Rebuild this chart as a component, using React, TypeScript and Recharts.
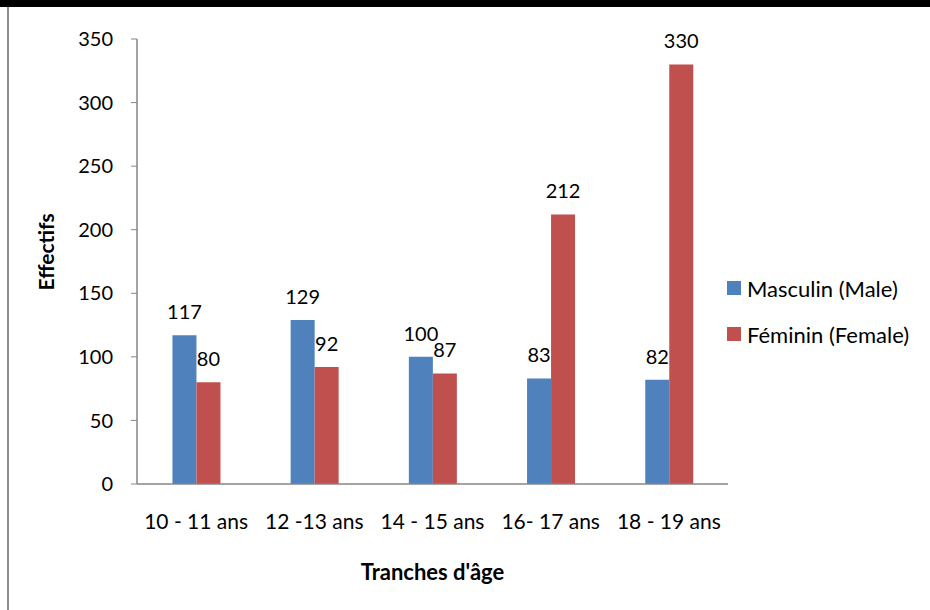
import { BarChart, Bar, XAxis, YAxis, LabelList } from "recharts";

const ageGroups = ["10 - 11 ans", "12 -13 ans", "14 - 15 ans", "16- 17 ans", "18 - 19 ans"];
const maleCounts = [117, 129, 100, 83, 82];
const femaleCounts = [80, 92, 87, 212, 330];
const yTicks = [0, 50, 100, 150, 200, 250, 300, 350];

const seriesNames = ["Masculin (Male)", "Féminin (Female)"];
const BLUE = "#4F81BD";
const RED = "#C0504D";
const FONT = "Lato, 'Open Sans', sans-serif";

const data = ageGroups.map((group, i) => ({
  group,
  male: maleCounts[i],
  female: femaleCounts[i],
}));

export default function App() {
  return (
    <div
      style={{
        position: "absolute",
        left: 0,
        top: 0,
        width: 930,
        height: 610,
        background: "#fff",
        fontFamily: FONT,
      }}
    >
      {/* frame of the chart area */}
      <div style={{ position: "absolute", left: 0, top: 0, width: 930, height: 7, background: "#000" }} />
      <div style={{ position: "absolute", left: 7, top: 7, width: 2, height: 603, background: "#8c8c8c" }} />

      <BarChart
        width={930}
        height={610}
        data={data}
        margin={{ top: 39, right: 202, bottom: 0, left: 0 }}
        barGap={0}
        barCategoryGap="30%"
        style={{ position: "absolute", left: 0, top: 0 }}
      >
        <XAxis
          dataKey="group"
          height={126}
          tickLine={false}
          axisLine={{ stroke: "#868686", strokeWidth: 1.5 }}
          tick={{ fill: "#000", fontSize: 21, fontFamily: FONT }}
          tickMargin={24}
          interval={0}
          label={{
            value: "Tranches d'âge",
            position: "insideBottom",
            offset: 30,
            fill: "#000",
            fontSize: 22,
            fontWeight: 700,
            fontFamily: FONT,
          }}
        />
        <YAxis
          width={137}
          domain={[0, 350]}
          ticks={yTicks}
          interval={0}
          tickSize={6}
          tickMargin={18}
          tickLine={{ stroke: "#868686" }}
          axisLine={{ stroke: "#868686", strokeWidth: 1.5 }}
          tick={{ fill: "#000", fontSize: 20, fontFamily: FONT }}
          label={{
            value: "Effectifs",
            angle: -90,
            position: "insideLeft",
            dx: 42,
            dy: 29,
            fill: "#000",
            fontSize: 21,
            fontWeight: 700,
            fontFamily: FONT,
          }}
        />
        <Bar dataKey="male" name={seriesNames[0]} fill={BLUE} isAnimationActive={false}>
          <LabelList dataKey="male" position="top" offset={16} fill="#000" fontSize={20} fontFamily={FONT} />
        </Bar>
        <Bar dataKey="female" name={seriesNames[1]} fill={RED} isAnimationActive={false}>
          <LabelList dataKey="female" position="top" offset={16} fill="#000" fontSize={20} fontFamily={FONT} />
        </Bar>
      </BarChart>

      {/* legend */}
      {seriesNames.map((name, i) => (
        <div
          key={name}
          style={{
            position: "absolute",
            left: 727,
            top: 275 + i * 46,
            height: 26,
            display: "flex",
            alignItems: "center",
            fontSize: 22,
            color: "#000",
            whiteSpace: "nowrap",
          }}
        >
          <span
            style={{
              display: "inline-block",
              width: 14,
              height: 14,
              background: i === 0 ? BLUE : RED,
              marginRight: 6,
            }}
          />
          {name}
        </div>
      ))}
    </div>
  );
}
